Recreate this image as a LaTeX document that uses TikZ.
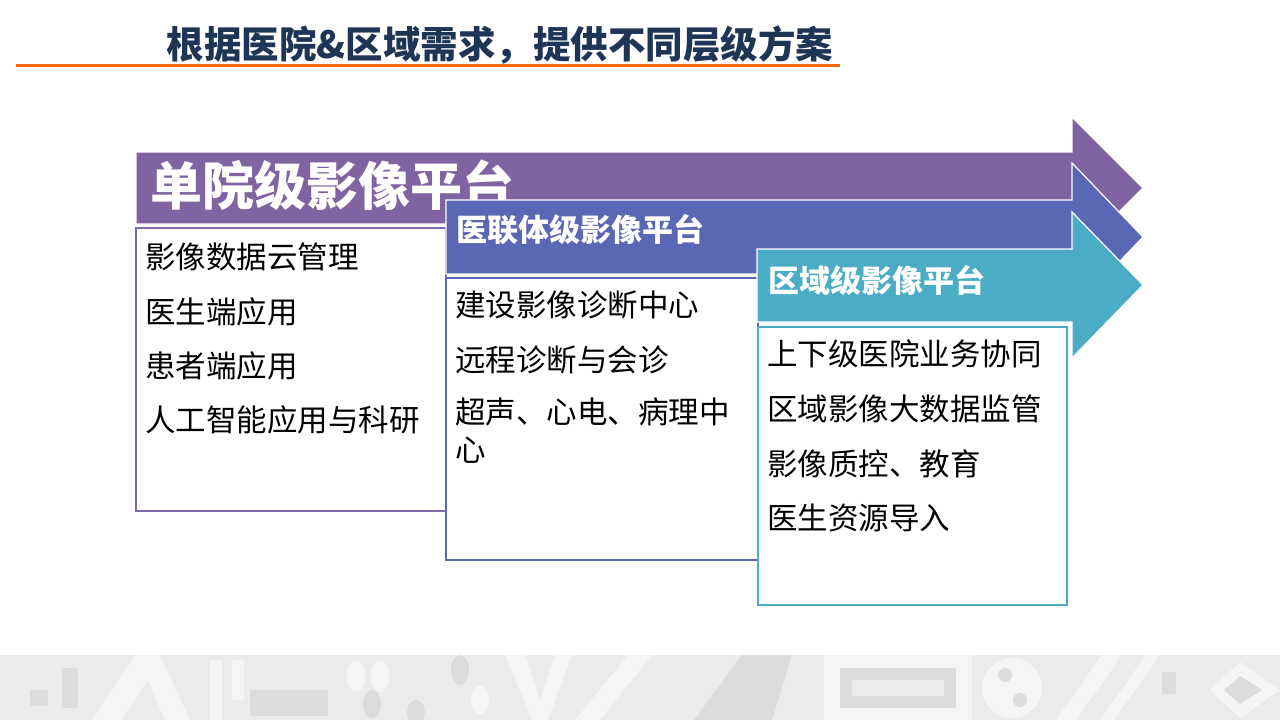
\documentclass[tikz,border=0pt]{standalone}
\usepackage{fontspec}
\newfontfamily\cjk{Noto Sans CJK SC}
\definecolor{titlenavy}{HTML}{1F3556}
\definecolor{orangeline}{HTML}{F96A05}
\definecolor{purp}{HTML}{8064A2}
\definecolor{purpline}{HTML}{7F6BAB}
\definecolor{bluep}{HTML}{5A67B4}
\definecolor{teal}{HTML}{4BACC6}
\definecolor{bandbg}{HTML}{EBEBEB}
\definecolor{bandlight}{HTML}{F5F5F5}
\definecolor{banddark}{HTML}{DCDCDC}
\tikzset{
  itemtext/.style={anchor=west,inner sep=0pt,font=\cjk\fontsize{30.5}{38}\selectfont,text=black,align=left},
  headtext/.style={anchor=west,inner sep=0pt,font=\cjk\bfseries\fontsize{31}{36}\selectfont,text=white},
  arrowshape/.style={draw=white,line width=1.2pt},
  boxshape/.style={fill=white,line width=1.3pt}
}
\begin{document}
\begin{tikzpicture}[x=1pt,y=-1pt]
\useasboundingbox (0,0) rectangle (1280,720);
\fill[white] (0,0) rectangle (1280,720);
% bottom decorative band
\fill[bandbg] (0,655) rectangle (1280,720);
\fill[banddark] (30,690) rectangle (48,706);
\fill[banddark] (62,668) rectangle (78,708);
\fill[bandlight] (92,720) -- (135,655) -- (160,655) -- (190,720) -- (165,720) -- (148,680) -- (122,720) -- cycle;
\fill[bandlight] (210,660) rectangle (222,720);
\fill[bandlight] (232,660) rectangle (244,700);
\fill[banddark] (250,690) rectangle (328,716);
\fill[bandlight] (356,676) ellipse (9 and 16);
\fill[bandlight] (380,676) ellipse (9 and 16);
\fill[banddark] (372,704) ellipse (9 and 14);
\fill[banddark] (460,670) ellipse (9 and 15);
\fill[bandlight] (480,700) ellipse (9 and 15);
\fill[banddark] (416,712) ellipse (9 and 12);
\fill[bandlight] (505,655) -- (525,655) -- (540,700) -- (555,655) -- (572,655) -- (548,720) -- (532,720) -- cycle;
\fill[bandlight] (575,720) -- (628,655) -- (652,655) -- (600,720) -- cycle;
\fill[banddark] (694,720) -- (742,655) -- (792,655) -- (772,720) -- cycle;
\fill[bandlight] (824,655) rectangle (972,720);
\fill[banddark] (840,668) rectangle (956,708);
\fill[bandbg] (852,680) rectangle (944,696);
\fill[bandlight] (1012,688) circle (30);
\fill[banddark] (1005,675) circle (7);
\fill[banddark] (1020,700) circle (7);
\fill[bandlight] (1056,720) -- (1102,655) -- (1122,655) -- (1076,720) -- cycle;
\fill[bandlight] (1100,720) -- (1146,655) -- (1160,655) -- (1114,720) -- cycle;
\fill[banddark] (1162,672) rectangle (1176,694);
\fill[bandlight] (1240,662) -- (1280,690) -- (1240,718) -- (1210,690) -- cycle;
\fill[banddark] (1240,676) -- (1262,690) -- (1240,704) -- (1224,690) -- cycle;
% title
\node[inner sep=0pt,font=\cjk\bfseries\fontsize{37.5}{42}\selectfont,text=titlenavy] (title) at (500,45) {根据医院\&区域需求，提供不同层级方案};
\coordinate (ulA) at (16,65);
\coordinate (ulB) at (840,65);
\draw[orangeline,line width=3pt] (ulA) -- (ulB);
% arrow 1
\filldraw[arrowshape,fill=purp] (136,152) -- (1072,152) -- (1072,117) -- (1143,188) -- (1072,259) -- (1072,224) -- (136,224) -- cycle;
\node[anchor=west,inner sep=0pt,font=\cjk\bfseries\fontsize{52}{56}\selectfont,text=white] (h1) at (150,185) {单院级影像平台};
\draw[boxshape,draw=purpline] (136,228) rectangle (446,511);
\node[itemtext] (a1) at (145,257) {影像数据云管理};
\node[itemtext] (a2) at (145,312) {医生端应用};
\node[itemtext] (a3) at (145,366) {患者端应用};
\node[itemtext] (a4) at (145,420) {人工智能应用与科研};
% arrow 2
\filldraw[arrowshape,fill=bluep] (446,200) -- (1072,200) -- (1072,163) -- (1143,237) -- (1072,311) -- (1072,274) -- (446,274) -- cycle;
\node[headtext] (h2) at (456,230) {医联体级影像平台};
\draw[boxshape,draw=bluep] (446,278) rectangle (758,560);
\node[itemtext] (b1) at (455,305) {建设影像诊断中心};
\node[itemtext] (b2) at (455,360) {远程诊断与会诊};
\node[itemtext,anchor=north west] (b3) at (455,398) {超声、心电、病理中\\[-0.5pt]心};
% arrow 3
\filldraw[arrowshape,fill=teal] (757,249) -- (1072,249) -- (1072,212) -- (1143,285) -- (1072,358) -- (1072,322) -- (757,322) -- cycle;
\node[headtext] (h3) at (768,280) {区域级影像平台};
\draw[boxshape,draw=teal] (758,327) rectangle (1067,605);
\node[itemtext] (c1) at (767,354) {上下级医院业务协同};
\node[itemtext] (c2) at (767,409) {区域影像大数据监管};
\node[itemtext] (c3) at (767,464) {影像质控、教育};
\node[itemtext] (c4) at (767,518) {医生资源导入};
\end{tikzpicture}
\end{document}
